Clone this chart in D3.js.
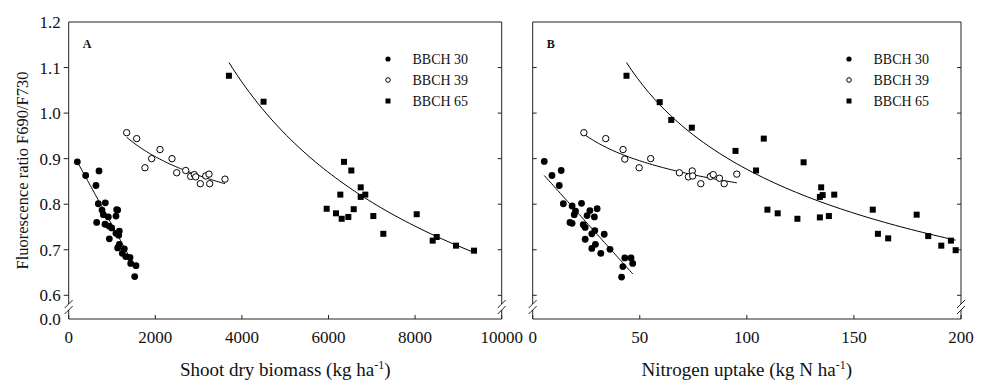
<!DOCTYPE html>
<html>
<head>
<meta charset="utf-8">
<script src="https://cdn.jsdelivr.net/npm/d3@7"></script>
<style>
  body { margin: 0; background: #fff; }
  svg text { font-family: "Liberation Serif", "Times New Roman", serif; fill: #111; }
</style>
</head>
<body>
<div id="chart"></div>
<script>
// ---- data ----
const biomass30 = [199,392,700,630,684,846,769,800,915,1108,1131,1092,646,838,931,993,1092,1169,1154,938,1169,1131,1285,1238,1316,1416,1432,1554,1524];
const ratioA30  = [0.893,0.863,0.873,0.841,0.801,0.803,0.787,0.777,0.772,0.788,0.787,0.774,0.760,0.756,0.752,0.748,0.736,0.741,0.732,0.724,0.712,0.704,0.702,0.692,0.685,0.683,0.670,0.665,0.641];
const biomass39 = [1339,1570,1762,1916,2109,2386,2494,2702,2817,2901,2933,3039,3164,3240,3256,3610];
const ratioA39  = [0.957,0.944,0.880,0.900,0.920,0.900,0.869,0.874,0.861,0.865,0.860,0.845,0.862,0.866,0.845,0.855];
const biomass65 = [3700,4500,6358,6527,6744,6273,6744,6850,5958,6173,6305,6458,6582,7035,7266,8037,8406,8499,8945,9360];
const ratioA65  = [1.082,1.025,0.893,0.874,0.837,0.821,0.816,0.821,0.790,0.780,0.768,0.772,0.789,0.774,0.735,0.778,0.720,0.728,0.709,0.698];

const uptake30 = [5.4,9.0,13.3,12.4,14.3,18.4,22.8,20.0,19.4,26.7,30.1,25.4,28.8,17.4,18.4,23.6,24.5,29.0,27.6,33.4,24.5,29.3,27.6,36.1,31.8,43.0,45.9,42.1,46.7,41.5];
const ratioB30 = [0.894,0.863,0.874,0.841,0.801,0.796,0.802,0.785,0.777,0.786,0.790,0.775,0.772,0.760,0.758,0.755,0.749,0.742,0.735,0.734,0.723,0.712,0.703,0.701,0.692,0.682,0.682,0.663,0.670,0.640];
const uptake39 = [23.9,34.1,42.2,43.0,49.7,55.1,68.5,72.7,74.5,74.7,78.5,83.0,84.3,87.2,89.4,95.3];
const ratioB39 = [0.957,0.944,0.920,0.899,0.880,0.900,0.869,0.860,0.873,0.862,0.845,0.861,0.865,0.857,0.845,0.866];
const uptake65 = [43.8,59.3,64.7,74.3,94.7,104.3,107.9,109.6,114.4,123.6,126.5,134.1,134.7,134.1,135.4,138.3,140.8,158.8,161.2,166.0,179.3,184.7,190.8,195.3,197.5];
const ratioB65 = [1.082,1.024,0.985,0.968,0.917,0.874,0.944,0.788,0.780,0.768,0.892,0.771,0.837,0.816,0.820,0.774,0.821,0.788,0.735,0.725,0.777,0.730,0.709,0.720,0.699];

// fitted curves: [type, x start, y at start, slope or exponent, x end]
const fitA30 = ["lin", 210, 0.891, -0.000173, 1550];
const fitA39 = ["pow", 1339, 0.947, -0.115, 3610];
const fitA65 = ["pow", 3702, 1.111, -0.507, 9390];
const fitB30 = ["lin", 5.4, 0.863, -0.00523, 46.7];
const fitB39 = ["pow", 23.6, 0.955, -0.086, 95.3];
const fitB65 = ["pow", 43.8, 1.111, -0.287, 197.5];

const yTicks = [0.6, 0.7, 0.8, 0.9, 1.0, 1.1, 1.2];
const ticksA = [0, 2000, 4000, 6000, 8000, 10000];
const ticksB = [0, 50, 100, 150, 200];
const stages = ["BBCH 30", "BBCH 39", "BBCH 65"];

// ---- layout ----
const width = 982, height = 385;
const plotTop = 22, plotBottom = 319, yLow = 295.3;

const svg = d3.select("#chart").append("svg")
    .attr("width", width)
    .attr("height", height);

const y = d3.scaleLinear().domain([0.6, 1.2]).range([yLow, plotTop]);

function fitValue(f, x) {
    if (f[0] === "lin") return f[2] + f[3] * (x - f[1]);
    return f[2] * Math.pow(x / f[1], f[3]);
}

function breakMark(g, x0) {
    // axis gap with double slash
    g.append("line").attr("x1", x0).attr("x2", x0).attr("y1", plotTop).attr("y2", 304)
        .attr("stroke", "#222");
    g.append("line").attr("x1", x0).attr("x2", x0).attr("y1", 310).attr("y2", plotBottom)
        .attr("stroke", "#222");
    [304, 310].forEach(yy => {
        g.append("line")
            .attr("x1", x0 - 4).attr("y1", yy + 4)
            .attr("x2", x0 + 4).attr("y2", yy - 4)
            .attr("stroke", "#222");
    });
}

function drawPanel(cfg) {
    const g = svg.append("g");
    const x = d3.scaleLinear().domain(cfg.domain).range([cfg.left, cfg.right]);

    // frame: top and bottom lines, broken verticals
    g.append("line").attr("x1", cfg.left).attr("x2", cfg.right).attr("y1", plotTop).attr("y2", plotTop)
        .attr("stroke", "#222");
    g.append("line").attr("x1", cfg.left).attr("x2", cfg.right).attr("y1", plotBottom).attr("y2", plotBottom)
        .attr("stroke", "#222");
    breakMark(g, cfg.left);
    breakMark(g, cfg.right);

    // y ticks
    yTicks.forEach(t => {
        if (t === 1.2) return;
        const dl = cfg.leftTicksOut ? -5 : 4;
        g.append("line").attr("x1", cfg.left).attr("x2", cfg.left + dl)
            .attr("y1", y(t)).attr("y2", y(t)).attr("stroke", "#222");
        g.append("line").attr("x1", cfg.right).attr("x2", cfg.right - 4)
            .attr("y1", y(t)).attr("y2", y(t)).attr("stroke", "#222");
    });

    if (cfg.yLabels) {
        yTicks.forEach(t => {
            g.append("text")
                .attr("x", cfg.left - 8).attr("y", y(t) + 6)
                .attr("text-anchor", "end")
                .style("font-size", "17px")
                .text(d3.format(".1f")(t));
        });
        g.append("text")
            .attr("x", cfg.left - 8).attr("y", plotBottom + 6)
            .attr("text-anchor", "end")
            .style("font-size", "17px")
            .text("0.0");
        g.append("text")
            .attr("transform", `translate(28,${(plotTop + plotBottom) / 2}) rotate(-90)`)
            .attr("text-anchor", "middle")
            .style("font-size", "16.5px")
            .text("Fluorescence ratio F690/F730");
    }

    // x ticks
    cfg.ticks.forEach(t => {
        g.append("line").attr("x1", x(t)).attr("x2", x(t))
            .attr("y1", plotBottom).attr("y2", plotBottom - 4).attr("stroke", "#222");
        g.append("text")
            .attr("x", x(t)).attr("y", 343)
            .attr("text-anchor", "middle")
            .style("font-size", "17px")
            .text(t);
    });

    // x title with superscript
    const title = g.append("text")
        .attr("x", (cfg.left + cfg.right) / 2).attr("y", 376)
        .attr("text-anchor", "middle")
        .style("font-size", "19px");
    title.append("tspan").text(cfg.xTitle);
    title.append("tspan").attr("dy", -7).style("font-size", "12px").text("-1");
    title.append("tspan").attr("dy", 7).text(")");

    // panel letter
    g.append("text")
        .attr("x", cfg.left + 14).attr("y", 48)
        .style("font-size", "12px")
        .style("font-weight", "bold")
        .text(cfg.letter);

    // fitted lines
    const line = d3.line().x(d => x(d[0])).y(d => y(d[1]));
    cfg.fits.forEach(f => {
        const pts = d3.range(0, 61).map(i => {
            const xv = f[1] + (f[4] - f[1]) * i / 60;
            return [xv, fitValue(f, xv)];
        });
        g.append("path").attr("d", line(pts))
            .attr("fill", "none").attr("stroke", "#000").attr("stroke-width", 1);
    });

    // points
    const s = cfg.series;
    g.selectAll(".c30").data(d3.zip(s[0][0], s[0][1])).enter().append("circle")
        .attr("cx", d => x(d[0])).attr("cy", d => y(d[1])).attr("r", 3.4)
        .attr("fill", "#000");
    g.selectAll(".c39").data(d3.zip(s[1][0], s[1][1])).enter().append("circle")
        .attr("cx", d => x(d[0])).attr("cy", d => y(d[1])).attr("r", 3.2)
        .attr("fill", "#fff").attr("stroke", "#000").attr("stroke-width", 1);
    g.selectAll(".s65").data(d3.zip(s[2][0], s[2][1])).enter().append("rect")
        .attr("x", d => x(d[0]) - 3).attr("y", d => y(d[1]) - 3)
        .attr("width", 6).attr("height", 6)
        .attr("fill", "#000");

    // legend
    const lg = g.append("g").attr("transform", `translate(${cfg.legendX},59)`);
    stages.forEach((name, i) => {
        const cy = i * 21;
        if (i === 0) lg.append("circle").attr("cx", 0).attr("cy", cy).attr("r", 2.6).attr("fill", "#000");
        if (i === 1) lg.append("circle").attr("cx", 0).attr("cy", cy).attr("r", 2.3)
            .attr("fill", "#fff").attr("stroke", "#000");
        if (i === 2) lg.append("rect").attr("x", -2.5).attr("y", cy - 2.5).attr("width", 5).attr("height", 5).attr("fill", "#000");
        lg.append("text").attr("x", 24.5).attr("y", cy + 5).style("font-size", "14px").text(name);
    });
}

drawPanel({
    left: 68.7, right: 501.7, domain: [0, 10000], ticks: ticksA,
    yLabels: true, leftTicksOut: true, letter: "A", legendX: 388,
    xTitle: "Shoot dry biomass (kg ha",
    fits: [fitA30, fitA39, fitA65],
    series: [[biomass30, ratioA30], [biomass39, ratioA39], [biomass65, ratioA65]]
});

drawPanel({
    left: 532.7, right: 961, domain: [0, 200], ticks: ticksB,
    yLabels: false, leftTicksOut: false, letter: "B", legendX: 849,
    xTitle: "Nitrogen uptake (kg N ha",
    fits: [fitB30, fitB39, fitB65],
    series: [[uptake30, ratioB30], [uptake39, ratioB39], [uptake65, ratioB65]]
});
</script>
</body>
</html>
